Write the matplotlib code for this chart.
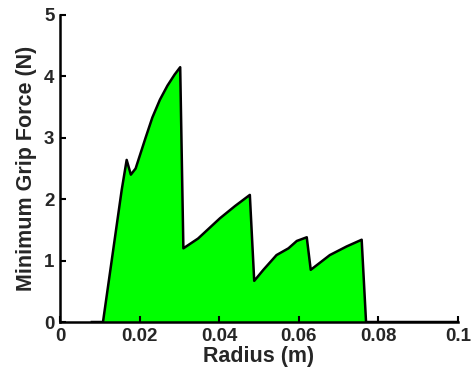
import matplotlib
matplotlib.use("Agg")
import matplotlib.pyplot as plt
import numpy as np

# radius (m) and minimum grip force (N)
radius = [0.0080, 0.0108, 0.0155, 0.01675, 0.0178, 0.0190, 0.0201, 0.0215,
          0.0232, 0.0251, 0.0270, 0.0288, 0.0302, 0.0310, 0.0347, 0.0402,
          0.0440, 0.0477, 0.0488, 0.0511, 0.0544, 0.0574, 0.0595, 0.0620,
          0.0630, 0.0678, 0.0720, 0.0758, 0.0769, 0.1000]
force = [0.0, 0.0, 2.15, 2.64, 2.40, 2.50, 2.72, 3.00,
         3.33, 3.62, 3.85, 4.03, 4.15, 1.20, 1.36, 1.69,
         1.89, 2.07, 0.67, 0.85, 1.09, 1.20, 1.32, 1.38,
         0.85, 1.09, 1.23, 1.34, 0.0, 0.0]

xticks = [0, 0.02, 0.04, 0.06, 0.08, 0.1]
xticklabels = ['0', '0.02', '0.04', '0.06', '0.08', '0.1']
yticks = [0, 1, 2, 3, 4, 5]

plt.rcParams['font.family'] = ['Liberation Sans', 'DejaVu Sans']
plt.rcParams['font.weight'] = 'bold'

txt = '#262626'

fig = plt.figure(figsize=(4.74, 3.73), dpi=100)
ax = fig.add_axes([0.1266, 0.1367, 0.8396, 0.8231])

ax.fill_between(radius, force, 0, facecolor='#00ff00', edgecolor='none', zorder=1)
ax.plot(radius, force, color='black', lw=1.8, zorder=2)

ax.set_xlim(0, 0.1)
ax.set_ylim(0, 5)
ax.set_xticks(xticks)
ax.set_xticklabels(xticklabels)
ax.set_yticks(yticks)

for s in ['top', 'right']:
    ax.spines[s].set_visible(False)
for s in ['left', 'bottom']:
    ax.spines[s].set_linewidth(1.8)
    ax.spines[s].set_color('black')
    ax.spines[s].set_zorder(3)

ax.tick_params(direction='in', length=4, width=1.5, colors='black',
               labelcolor=txt, labelsize=13.5, pad=4)
for lab in ax.get_xticklabels() + ax.get_yticklabels():
    lab.set_fontweight('bold')

ax.set_xlabel('Radius (m)', fontsize=15.5, fontweight='bold', color=txt, labelpad=1)
ax.set_ylabel('Minimum Grip Force (N)', fontsize=15.5, fontweight='bold', color=txt, labelpad=5)

fig.savefig('out.png', dpi=100)
